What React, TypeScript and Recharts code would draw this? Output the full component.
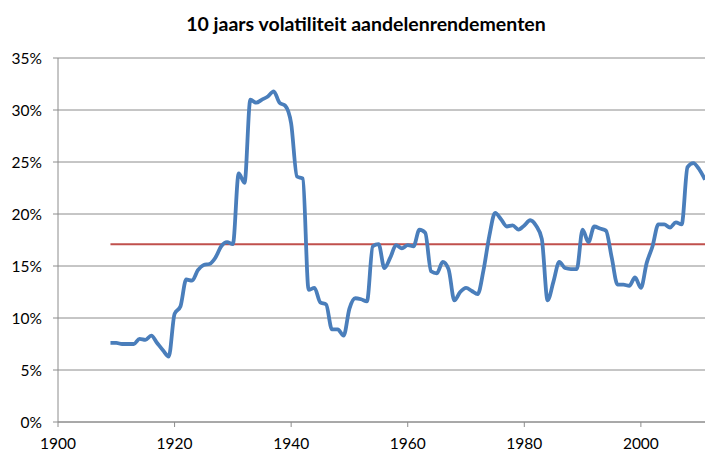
import { LineChart, Line, XAxis, YAxis, CartesianGrid, ReferenceLine } from "recharts";

const years = [
  1909, 1910, 1911, 1912, 1913, 1914, 1915, 1916, 1917, 1918, 1919, 1920, 1921, 1922, 1923, 1924,
  1925, 1926, 1927, 1928, 1929, 1930, 1931, 1932, 1933, 1934, 1935, 1936, 1937, 1938, 1939, 1940,
  1941, 1942, 1943, 1944, 1945, 1946, 1947, 1948, 1949, 1950, 1951, 1952, 1953, 1954, 1955, 1956,
  1957, 1958, 1959, 1960, 1961, 1962, 1963, 1964, 1965, 1966, 1967, 1968, 1969, 1970, 1971, 1972,
  1973, 1974, 1975, 1976, 1977, 1978, 1979, 1980, 1981, 1982, 1983, 1984, 1985, 1986, 1987, 1988,
  1989, 1990, 1991, 1992, 1993, 1994, 1995, 1996, 1997, 1998, 1999, 2000, 2001, 2002, 2003, 2004,
  2005, 2006, 2007, 2008, 2009, 2010, 2011,
];

// 10-year volatility in %
const volatility = [
  7.6, 7.6, 7.5, 7.5, 7.5, 8.0, 7.9, 8.3, 7.6, 6.9, 6.3, 10.4, 11.1, 13.7, 13.6, 14.6,
  15.1, 15.2, 15.8, 16.9, 17.3, 17.1, 23.9, 23.0, 31.0, 30.7, 31.0, 31.3, 31.8, 30.7, 30.4, 28.7,
  23.6, 23.4, 12.7, 12.9, 11.5, 11.3, 8.9, 8.9, 8.3, 10.9, 11.9, 11.8, 11.6, 16.9, 17.1, 14.8,
  15.8, 17.0, 16.7, 17.0, 16.9, 18.5, 18.2, 14.5, 14.3, 15.4, 14.7, 11.7, 12.5, 12.9, 12.6, 12.3,
  14.6, 17.9, 20.1, 19.5, 18.8, 18.9, 18.5, 18.9, 19.4, 18.9, 17.6, 11.7, 13.5, 15.4, 14.8, 14.7,
  14.7, 18.5, 17.3, 18.8, 18.6, 18.4, 15.8, 13.2, 13.2, 13.1, 13.9, 12.9, 15.3, 16.9, 19.0, 19.0,
  18.7, 19.2, 19.0, 24.5, 24.9, 24.3, 23.3,
];

const average = 17.1;
const averageFrom = 1909;
const averageTo = 2011;

const xTicks = [1900, 1920, 1940, 1960, 1980, 2000];
const yTicks = [0, 5, 10, 15, 20, 25, 30, 35];

const data = years.map((year, i) => ({ year, vol: volatility[i] }));

const font = "Lato, 'Open Sans', sans-serif";

export default function App() {
  return (
    <div style={{ position: "absolute", left: 0, top: 0, width: 705, height: 452, background: "#fff", overflow: "hidden" }}>
      <div
        style={{
          position: "absolute",
          left: 0,
          top: 12,
          width: 732,
          textAlign: "center",
          fontFamily: font,
          fontWeight: 700,
          fontSize: 19.5,
          color: "#000",
        }}
      >
        10 jaars volatiliteit aandelenrendementen
      </div>
      <LineChart width={705} height={452} data={data} margin={{ top: 58, right: 0, bottom: 0, left: 0 }}>
        <CartesianGrid vertical={false} stroke="#8c8c8c" strokeWidth={1} />
        <XAxis
          dataKey="year"
          type="number"
          domain={[1900, 2011]}
          ticks={xTicks}
          allowDataOverflow
          height={30}
          stroke="#8c8c8c"
          tickSize={5}
          tickMargin={11}
          tick={{ fill: "#000", fontSize: 15.5, fontFamily: font }}
        />
        <YAxis
          type="number"
          domain={[0, 35]}
          ticks={yTicks}
          width={58}
          stroke="#8c8c8c"
          tickSize={5}
          tickMargin={11}
          tickFormatter={(v: number) => `${v}%`}
          tick={{ fill: "#000", fontSize: 15.5, fontFamily: font }}
        />
        <ReferenceLine
          segment={[
            { x: averageFrom, y: average },
            { x: averageTo, y: average },
          ]}
          stroke="#c0504d"
          strokeWidth={2}
        />
        <Line
          type="monotone"
          dataKey="vol"
          stroke="#4a7ebb"
          strokeWidth={3.8}
          dot={false}
          isAnimationActive={false}
        />
      </LineChart>
    </div>
  );
}
